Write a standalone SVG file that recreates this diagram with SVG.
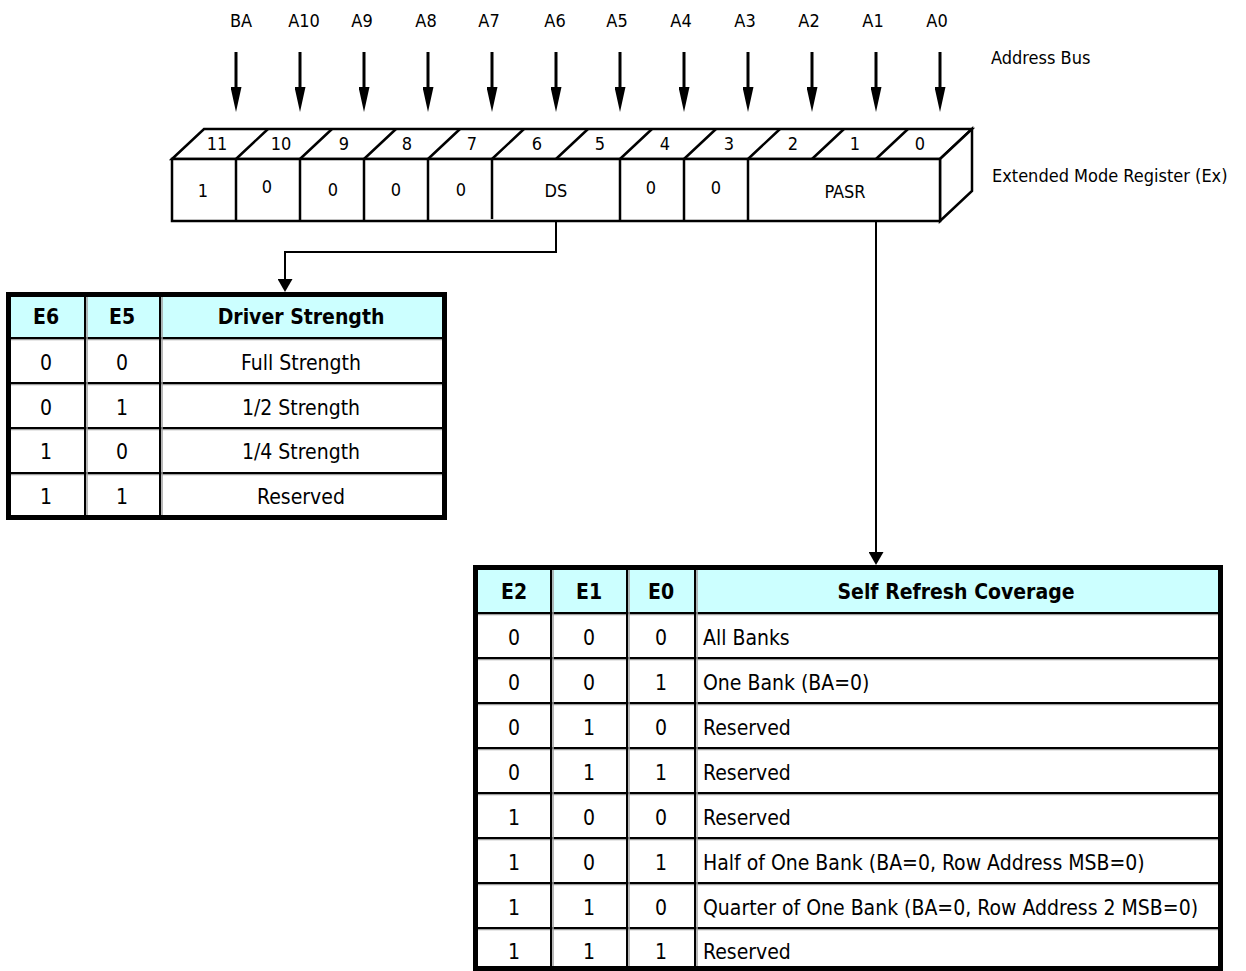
<svg xmlns="http://www.w3.org/2000/svg" width="1246" height="971" viewBox="0 0 1246 971">
<defs>
<style>
text{font-family:"DejaVu Sans Condensed","DejaVu Sans",sans-serif;font-stretch:condensed;fill:#000}
.lbl{font-size:18px}
.mid{text-anchor:middle}
.tbl{font-size:21px}
.b{font-weight:bold}
.reg{fill:#fff;stroke:#000;stroke-width:2.5;stroke-linejoin:miter}
.ln{stroke:#000;stroke-width:2.5;fill:none}
.bus{stroke:#000;stroke-width:3;fill:none}
.con{stroke:#000;stroke-width:2;fill:none}
.outer{fill:#fff;stroke:#000;stroke-width:5}
.hdr{fill:#ccffff}
.grid{stroke:#000;stroke-width:2}
.shade{stroke:#a0a0a0;stroke-width:1.5}
</style>
<marker id="busHead" viewBox="0 0 25 11" refX="0" refY="5.5" markerWidth="25" markerHeight="11" markerUnits="userSpaceOnUse" orient="auto">
<path d="M0,0 L25,5.5 L0,11 z" fill="#000"/>
</marker>
<marker id="conHead" viewBox="0 0 13 15" refX="0" refY="7.5" markerWidth="13" markerHeight="15" markerUnits="userSpaceOnUse" orient="auto">
<path d="M0,0 L13,7.5 L0,15 z" fill="#000"/>
</marker>
</defs>
<rect width="1246" height="971" fill="#fff"/>

<g id="address-bus">
<text class="lbl mid" x="241" y="27">BA</text>
<text class="lbl mid" x="304" y="27">A10</text>
<text class="lbl mid" x="362" y="27">A9</text>
<text class="lbl mid" x="426" y="27">A8</text>
<text class="lbl mid" x="489" y="27">A7</text>
<text class="lbl mid" x="555" y="27">A6</text>
<text class="lbl mid" x="617" y="27">A5</text>
<text class="lbl mid" x="681" y="27">A4</text>
<text class="lbl mid" x="745" y="27">A3</text>
<text class="lbl mid" x="809" y="27">A2</text>
<text class="lbl mid" x="873" y="27">A1</text>
<text class="lbl mid" x="937" y="27">A0</text>
<text class="lbl" x="991" y="64">Address Bus</text>
<path class="bus" marker-end="url(#busHead)" d="M236,52V87"/>
<path class="bus" marker-end="url(#busHead)" d="M300,52V87"/>
<path class="bus" marker-end="url(#busHead)" d="M364,52V87"/>
<path class="bus" marker-end="url(#busHead)" d="M428,52V87"/>
<path class="bus" marker-end="url(#busHead)" d="M492,52V87"/>
<path class="bus" marker-end="url(#busHead)" d="M556,52V87"/>
<path class="bus" marker-end="url(#busHead)" d="M620,52V87"/>
<path class="bus" marker-end="url(#busHead)" d="M684,52V87"/>
<path class="bus" marker-end="url(#busHead)" d="M748,52V87"/>
<path class="bus" marker-end="url(#busHead)" d="M812,52V87"/>
<path class="bus" marker-end="url(#busHead)" d="M876,52V87"/>
<path class="bus" marker-end="url(#busHead)" d="M940,52V87"/>
</g>

<g id="register">
<polygon class="reg" points="172,159 204,129 972,129 940,159"/>
<polygon class="reg" points="940,159 972,129 972,191 940,221"/>
<rect class="reg" x="172" y="159" width="768" height="62"/>
<path class="ln" d="M236,159L268,129M300,159L332,129M364,159L396,129M428,159L460,129M492,159L524,129M556,159L588,129M620,159L652,129M684,159L716,129M748,159L780,129M812,159L844,129M876,159L908,129"/>
<path class="ln" d="M236,159V221M300,159V221M364,159V221M428,159V221M492,159V219M620,159V221M684,159V221M748,159V221"/>
<text class="lbl mid" x="217" y="150">11</text>
<text class="lbl mid" x="281" y="150">10</text>
<text class="lbl mid" x="344" y="150">9</text>
<text class="lbl mid" x="407" y="150">8</text>
<text class="lbl mid" x="472" y="150">7</text>
<text class="lbl mid" x="537" y="150">6</text>
<text class="lbl mid" x="600" y="150">5</text>
<text class="lbl mid" x="665" y="150">4</text>
<text class="lbl mid" x="729" y="150">3</text>
<text class="lbl mid" x="793" y="150">2</text>
<text class="lbl mid" x="855" y="150">1</text>
<text class="lbl mid" x="920" y="150">0</text>
<text class="lbl mid" x="203" y="197">1</text>
<text class="lbl mid" x="267" y="193">0</text>
<text class="lbl mid" x="333" y="196">0</text>
<text class="lbl mid" x="396" y="196">0</text>
<text class="lbl mid" x="461" y="196">0</text>
<text class="lbl mid" x="556" y="197">DS</text>
<text class="lbl mid" x="651" y="194">0</text>
<text class="lbl mid" x="716" y="194">0</text>
<text class="lbl mid" x="845" y="198">PASR</text>
<text class="lbl" x="992" y="182">Extended Mode Register (Ex)</text>
</g>

<g id="connectors">
<path class="con" marker-end="url(#conHead)" d="M556,221V252H285V279"/>
<path class="con" marker-end="url(#conHead)" d="M876,221V552"/>
</g>

<g id="driver-strength-table">
<rect class="outer" x="8.5" y="294.5" width="436" height="223"/>
<rect class="hdr" x="11" y="297" width="431" height="40"/>
<path class="shade" d="M11,339.5H442M11,384.5H442M11,429.5H442M11,474.5H442"/>
<path class="grid" d="M11,338H442M11,383H442M11,428H442M11,473H442"/>
<path class="shade" d="M87,297V515M162,297V515"/>
<path class="grid" d="M85,297V515M160,297V515"/>
<text class="tbl mid b" x="46" y="324">E6</text>
<text class="tbl mid b" x="122" y="324">E5</text>
<text class="tbl mid b" x="301" y="324">Driver Strength</text>
<text class="tbl mid" x="46" y="370">0</text>
<text class="tbl mid" x="122" y="370">0</text>
<text class="tbl mid" x="301" y="370">Full Strength</text>
<text class="tbl mid" x="46" y="415">0</text>
<text class="tbl mid" x="122" y="415">1</text>
<text class="tbl mid" x="301" y="415">1/2 Strength</text>
<text class="tbl mid" x="46" y="459">1</text>
<text class="tbl mid" x="122" y="459">0</text>
<text class="tbl mid" x="301" y="459">1/4 Strength</text>
<text class="tbl mid" x="46" y="504">1</text>
<text class="tbl mid" x="122" y="504">1</text>
<text class="tbl mid" x="301" y="504">Reserved</text>
</g>

<g id="self-refresh-table">
<rect class="outer" x="475.5" y="567.5" width="745" height="401"/>
<rect class="hdr" x="478" y="570" width="740" height="42"/>
<path class="shade" d="M478,614.5H1218M478,659.5H1218M478,704.5H1218M478,749.5H1218M478,794.5H1218M478,839.5H1218M478,884.5H1218M478,929.5H1218"/>
<path class="grid" d="M478,613H1218M478,658H1218M478,703H1218M478,748H1218M478,793H1218M478,838H1218M478,883H1218M478,928H1218"/>
<path class="shade" d="M553,570V966M629,570V966M697,570V966"/>
<path class="grid" d="M551,570V966M627,570V966M695,570V966"/>
<text class="tbl mid b" x="514" y="599">E2</text>
<text class="tbl mid b" x="589" y="599">E1</text>
<text class="tbl mid b" x="661" y="599">E0</text>
<text class="tbl mid b" x="956" y="599">Self Refresh Coverage</text>
<text class="tbl mid" x="514" y="645">0</text><text class="tbl mid" x="589" y="645">0</text><text class="tbl mid" x="661" y="645">0</text>
<text class="tbl" x="703" y="645">All Banks</text>
<text class="tbl mid" x="514" y="690">0</text><text class="tbl mid" x="589" y="690">0</text><text class="tbl mid" x="661" y="690">1</text>
<text class="tbl" x="703" y="690">One Bank (BA=0)</text>
<text class="tbl mid" x="514" y="735">0</text><text class="tbl mid" x="589" y="735">1</text><text class="tbl mid" x="661" y="735">0</text>
<text class="tbl" x="703" y="735">Reserved</text>
<text class="tbl mid" x="514" y="780">0</text><text class="tbl mid" x="589" y="780">1</text><text class="tbl mid" x="661" y="780">1</text>
<text class="tbl" x="703" y="780">Reserved</text>
<text class="tbl mid" x="514" y="825">1</text><text class="tbl mid" x="589" y="825">0</text><text class="tbl mid" x="661" y="825">0</text>
<text class="tbl" x="703" y="825">Reserved</text>
<text class="tbl mid" x="514" y="870">1</text><text class="tbl mid" x="589" y="870">0</text><text class="tbl mid" x="661" y="870">1</text>
<text class="tbl" x="703" y="870">Half of One Bank (BA=0, Row Address MSB=0)</text>
<text class="tbl mid" x="514" y="915">1</text><text class="tbl mid" x="589" y="915">1</text><text class="tbl mid" x="661" y="915">0</text>
<text class="tbl" x="703" y="915">Quarter of One Bank (BA=0, Row Address 2 MSB=0)</text>
<text class="tbl mid" x="514" y="959">1</text><text class="tbl mid" x="589" y="959">1</text><text class="tbl mid" x="661" y="959">1</text>
<text class="tbl" x="703" y="959">Reserved</text>
</g>
</svg>
